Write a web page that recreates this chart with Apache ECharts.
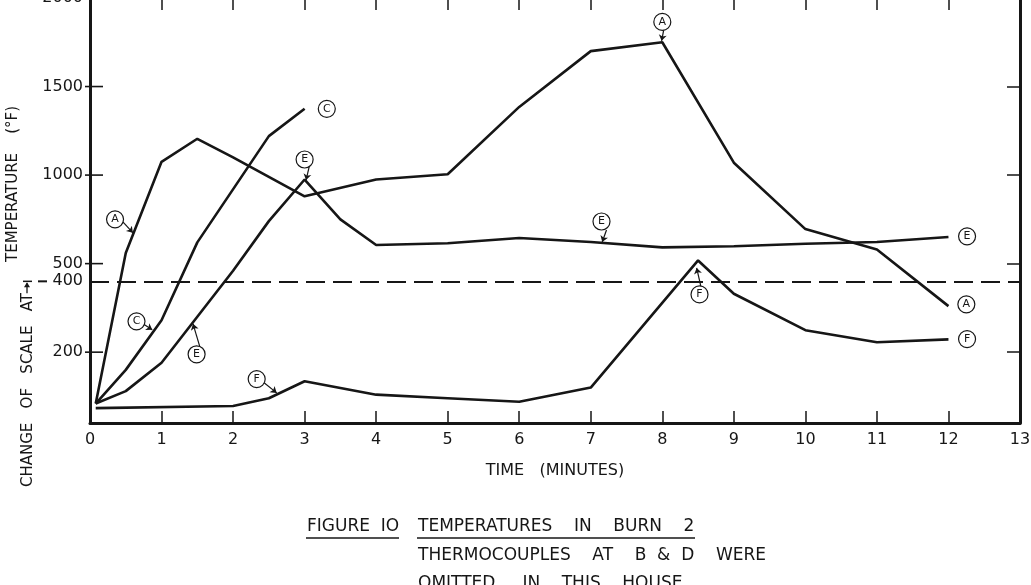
<!DOCTYPE html>
<html>
<head>
    <meta charset="UTF-8">
    <title>Figure 10 - Temperatures in Burn 2</title>
    <script src="https://cdn.jsdelivr.net/npm/echarts@6/dist/echarts.min.js"></script>
    <style type="text/css">
        html, body, #main {
            height: 100%;
            width: 100%;
            margin: 0;
            padding: 0;
            background: #fff;
        }
    </style>
</head>
<body>
<div id="main"></div>
<script type="text/javascript">
    // thermocouple readings: [time (min), temperature (°F)]
    var curveA = [[0.08, 55], [0.5, 560], [1, 1075], [1.5, 1205], [2, 1100], [3, 880], [4, 975], [5, 1005],
        [6, 1385], [7, 1700], [8, 1750], [9, 1070], [10, 695], [11, 580], [12, 330]];
    var curveC = [[0.08, 55], [0.5, 150], [1, 290], [1.5, 620], [2.5, 1220], [3, 1375]];
    var curveE = [[0.08, 55], [0.5, 90], [1, 170], [1.5, 300], [2, 460], [2.5, 740], [3, 975], [3.5, 750],
        [4, 605], [5, 615], [6, 645], [7, 622], [8, 592], [9, 598], [10, 612], [11, 622], [12, 650]];
    var curveF = [[0.08, 42], [2, 48], [2.5, 70], [3, 118], [4, 80], [5, 70], [6, 60], [7, 100],
        [8.5, 518], [9, 365], [10, 262], [11, 228], [12, 236]];

    // circled letters [time, temp, letter] and their pointer arrows [t1, v1, t2, v2]
    var tags = [[0.35, 750, 'A'], [8.0, 1865, 'A'], [12.25, 335, 'A'],
        [3.31, 1374, 'C'], [0.65, 287, 'C'],
        [3.0, 1088, 'E'], [1.49, 194, 'E'], [7.15, 738, 'E'], [12.26, 654, 'E'],
        [2.33, 124, 'F'], [8.52, 363, 'F'], [12.26, 237, 'F']];
    var pointers = [[0.46, 736, 0.60, 674], [8.02, 1820, 7.99, 1758], [0.74, 280, 0.87, 263],
        [3.07, 1058, 3.02, 972], [1.54, 212, 1.44, 280], [7.22, 690, 7.16, 622],
        [2.42, 116, 2.61, 85], [8.55, 376, 8.48, 476]];

    var xTicks = [0, 13];
    var yLabelValues = [200, 400, 500, 1000, 1500, 2000];
    var yTickValues = [200, 500, 1000, 1500, 2000];

    // the scale changes at 400 °F: above it one unit of the axis is 2 °F
    var BREAK = 400;
    function toAxis(v) { return v <= BREAK ? v : BREAK + (v - BREAK) / 2; }
    function fromAxis(t) { return t <= BREAK ? t : BREAK + (t - BREAK) * 2; }
    function conv(arr) { return arr.map(function (p) { return [p[0], toAxis(p[1])]; }); }

    var ink = '#161616';
    var font = 'DejaVu Sans';

    var mycharts = echarts.init(document.getElementById('main'));

    function lineSeries(name, data) {
        return {
            type: 'line', name: name, data: conv(data),
            showSymbol: false, silent: true, animation: false,
            lineStyle: {color: ink, width: 2.6},
            xAxisIndex: 0, yAxisIndex: 0
        };
    }

    var sA = lineSeries('A', curveA);
    sA.markLine = {
        silent: true, symbol: 'none', label: {show: false},
        lineStyle: {color: ink, width: 2, type: [19, 8]},
        data: [{yAxis: toAxis(BREAK)}]
    };

    var yMax = toAxis(2000);
    var option = {
        backgroundColor: '#fff',
        animation: false,
        grid: {left: 90, right: 11, top: -2, bottom: 162, outerBoundsMode: 'none', containLabel: false},
        xAxis: [{
            type: 'value', min: xTicks[0], max: xTicks[1], interval: 1,
            splitLine: {show: false},
            axisLine: {onZero: false, lineStyle: {color: ink, width: 3}},
            axisTick: {inside: true, length: 12, lineStyle: {color: ink, width: 1.5}},
            axisLabel: {color: ink, fontFamily: font, fontSize: 16, margin: 9},
            name: 'TIME   (MINUTES)', nameLocation: 'middle', nameGap: 40,
            nameTextStyle: {color: ink, fontFamily: font, fontSize: 16}
        }, {
            type: 'value', position: 'top', min: xTicks[0], max: xTicks[1], interval: 1,
            splitLine: {show: false},
            axisLine: {onZero: false, lineStyle: {color: ink, width: 2}},
            axisTick: {inside: true, length: 12, lineStyle: {color: ink, width: 1.5}},
            axisLabel: {show: false}
        }],
        yAxis: [{
            type: 'value', position: 'left', min: 0, max: yMax,
            splitLine: {show: false},
            axisLine: {onZero: false, lineStyle: {color: ink, width: 3}},
            axisTick: {show: false},
            axisLabel: {
                color: ink, fontFamily: font, fontSize: 16, margin: 7,
                customValues: yLabelValues.map(toAxis),
                formatter: function (t) { return String(Math.round(fromAxis(t))); }
            }
        }, {
            type: 'value', position: 'right', min: 0, max: yMax,
            splitLine: {show: false},
            axisLine: {onZero: false, lineStyle: {color: ink, width: 3}},
            axisTick: {
                inside: true, length: 13, lineStyle: {color: ink, width: 1.5},
                customValues: yTickValues.map(toAxis)
            },
            axisLabel: {show: false}
        }],
        series: [
            sA,
            lineSeries('C', curveC),
            lineSeries('E', curveE),
            lineSeries('F', curveF),
            {
                type: 'lines', coordinateSystem: 'cartesian2d', silent: true,
                symbol: ['none', 'arrow'], symbolSize: 6,
                lineStyle: {color: ink, width: 1.2, opacity: 1},
                data: pointers.map(function (p) {
                    return {coords: [[p[0], toAxis(p[1])], [p[2], toAxis(p[3])]]};
                })
            },
            {
                type: 'scatter', silent: true, symbol: 'circle', symbolSize: 17,
                itemStyle: {color: '#fff', borderColor: ink, borderWidth: 1.2, opacity: 1},
                label: {
                    show: true, position: 'inside', color: ink, fontFamily: font, fontSize: 11,
                    formatter: function (p) { return p.data[2]; }
                },
                data: tags.map(function (d) { return [d[0], toAxis(d[1]), d[2]]; }),
                z: 5
            }
        ]
    };
    mycharts.setOption(option);

    // left y ticks cross the axis line; placed from the axis scale
    var y400 = mycharts.convertToPixel({yAxisIndex: 0}, toAxis(BREAK));
    var x0 = mycharts.convertToPixel({xAxisIndex: 0}, 0);
    var stubs = yTickValues.map(function (v) {
        var py = mycharts.convertToPixel({yAxisIndex: 0}, toAxis(v));
        return {type: 'line', shape: {x1: x0 - 5, y1: py, x2: x0 + 13, y2: py}, style: {stroke: ink, lineWidth: 1.6}};
    });
    var capStyle = {fill: ink, font: '17px "DejaVu Sans"'};
    mycharts.setOption({
        graphic: stubs.concat([
            {type: 'text', x: 13, y: 184, rotation: Math.PI / 2,
                style: {text: 'TEMPERATURE    (°F)', fill: ink, font: '15px "DejaVu Sans"', align: 'center', verticalAlign: 'middle'}},
            {type: 'text', x: 28, y: 390, rotation: Math.PI / 2,
                style: {text: 'CHANGE   OF   SCALE   AT', fill: ink, font: '15px "DejaVu Sans"', align: 'center', verticalAlign: 'middle'}},
            {type: 'line', shape: {x1: 27, y1: y400 + 12, x2: 27, y2: y400 + 2}, style: {stroke: ink, lineWidth: 1.3}},
            {type: 'polygon', shape: {points: [[24, y400 + 6], [30, y400 + 6], [27, y400 + 1]]}, style: {fill: ink}},
            {type: 'line', shape: {x1: 23, y1: y400, x2: 32, y2: y400}, style: {stroke: ink, lineWidth: 1.5}},
            {type: 'line', shape: {x1: 38, y1: y400, x2: 47, y2: y400}, style: {stroke: ink, lineWidth: 2}},

            {type: 'text', x: 307, y: 527, style: Object.assign({text: 'FIGURE  IO', textVerticalAlign: 'middle'}, capStyle)},
            {type: 'line', shape: {x1: 306, y1: 538, x2: 399, y2: 538}, style: {stroke: ink, lineWidth: 1.5}},
            {type: 'text', x: 418, y: 527, style: Object.assign({text: 'TEMPERATURES    IN    BURN    2', textVerticalAlign: 'middle'}, capStyle)},
            {type: 'line', shape: {x1: 417, y1: 538, x2: 695, y2: 538}, style: {stroke: ink, lineWidth: 1.5}},
            {type: 'text', x: 418, y: 556, style: Object.assign({text: 'THERMOCOUPLES    AT    B  &  D    WERE', textVerticalAlign: 'middle'}, capStyle)},
            {type: 'text', x: 418, y: 584, style: Object.assign({text: 'OMITTED     IN    THIS    HOUSE', textVerticalAlign: 'middle'}, capStyle)}
        ])
    });
</script>
</body>
</html>
